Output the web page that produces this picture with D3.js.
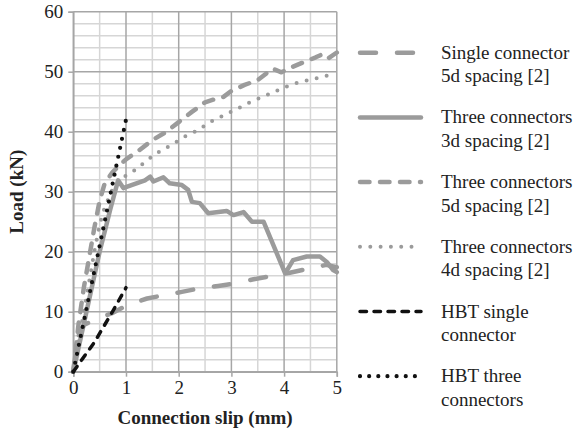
<!DOCTYPE html>
<html><head><meta charset="utf-8">
<script src="https://cdn.jsdelivr.net/npm/d3@7"></script>
<style>
html,body{margin:0;padding:0;background:#fff;}
svg{display:block;font-family:"Liberation Serif","Times New Roman",serif;}
</style></head>
<body><svg id="c" width="579" height="431"></svg>
<script>
// ---- data (slip mm, load kN) ----
const single5d = [[0,0],[0.05,3.5],[0.1,6],[0.2,7.8],[0.45,8.8],[0.75,9.8],[1,11],[1.4,12.2],[1.75,12.8],[2.06,13.3],[2.4,13.9],[2.75,14.3],[3.07,14.7],[3.42,15.4],[3.76,15.95],[4.11,16.5],[4.43,17.1],[4.8,17.8],[5,17.4]];
const three3d = [[0,0],[0.1,4],[0.3,12],[0.5,20],[0.7,27],[0.85,31.9],[0.95,30.6],[1.01,30.8],[1.36,31.9],[1.46,32.5],[1.52,31.7],[1.71,32.4],[1.83,31.4],[2.06,31.1],[2.18,30.3],[2.25,28.3],[2.4,28.1],[2.56,26.4],[2.91,26.8],[3.04,26.1],[3.23,26.6],[3.39,25.0],[3.61,25.0],[4.02,16.4],[4.17,18.6],[4.43,19.2],[4.68,19.2],[4.81,18.3],[4.93,16.95],[5,16.6]];
const three5d = [[0,0],[0.1,8],[0.2,14],[0.3,19],[0.4,24],[0.5,28.5],[0.6,31.5],[0.75,33.3],[1,35.4],[1.25,36.9],[1.5,38.6],[1.75,39.9],[2,41.6],[2.25,43.3],[2.5,44.9],[2.75,45.6],[2.85,45.8],[3,46.8],[3.25,47.8],[3.5,48.6],[3.78,50.5],[3.95,49.9],[4.1,50.6],[4.35,51.5],[4.6,52.4],[4.75,53],[4.85,52.3],[5,53.2]];
const three4d = [[0,0],[0.1,5],[0.2,10],[0.3,15],[0.4,20],[0.5,24.5],[0.6,27.5],[0.75,30.5],[0.9,32.2],[1.11,33.2],[1.27,34.3],[1.41,35.3],[1.58,36.4],[1.74,37.2],[1.92,38.1],[2.09,39.1],[2.27,39.8],[2.44,40.7],[2.61,41.7],[2.78,42.4],[2.96,43.2],[3.13,43.9],[3.3,44.7],[3.48,45.4],[3.67,46.1],[3.85,46.8],[4.04,47.5],[4.23,48.1],[4.42,48.5],[4.61,48.9],[4.78,49.3],[5,49.5]];
const hbtSingle = [[0,0],[0.4,4.9],[0.75,10.1],[1,14]];
const hbtThree = [[0,0],[0.5,21],[1,42]];

const xTicks = [0,1,2,3,4,5];
const yTicks = [0,10,20,30,40,50,60];
const legendLabels = [
  ["Single connector","5d spacing [2]"],
  ["Three connectors","3d spacing [2]"],
  ["Three connectors","5d spacing [2]"],
  ["Three connectors","4d spacing [2]"],
  ["HBT single","connector"],
  ["HBT three","connectors"]
];
const seriesData = [single5d, three3d, three5d, three4d, hbtSingle, hbtThree];
const styles = [
  {c:"#9b9b9b", w:4.5, d:"16,21"},
  {c:"#9b9b9b", w:4.5, d:null},
  {c:"#9b9b9b", w:4.5, d:"9.5,10.5"},
  {c:"#9b9b9b", w:4, d:"0,10.3"},
  {c:"#111", w:3.5, d:"6.5,7.5"},
  {c:"#111", w:4.2, d:"0,9.15"}
];

const svg = d3.select("#c");
const L=73.3, R=336.8, T=11.7, B=371.7;
const x = d3.scaleLinear().domain([0,5]).range([L,R]);
const y = d3.scaleLinear().domain([0,60]).range([B,T]);

const g = svg.append("g");
// minor grid
const minorX = d3.range(0.5,5,1);
const minorY = d3.range(0,61,2).filter(v=>v%10!==0);
g.selectAll(".mx").data(minorX).join("line").attr("x1",d=>x(d)).attr("x2",d=>x(d)).attr("y1",T).attr("y2",B).attr("stroke","#d6d6d6").attr("stroke-width",1.5);
g.selectAll(".my").data(minorY).join("line").attr("y1",d=>y(d)).attr("y2",d=>y(d)).attr("x1",L).attr("x2",R).attr("stroke","#d6d6d6").attr("stroke-width",1.5);
// major grid
g.selectAll(".Mx").data(xTicks).join("line").attr("x1",d=>x(d)).attr("x2",d=>x(d)).attr("y1",T).attr("y2",B).attr("stroke","#a6a6a6").attr("stroke-width",1.5);
g.selectAll(".My").data(yTicks).join("line").attr("y1",d=>y(d)).attr("y2",d=>y(d)).attr("x1",L).attr("x2",R).attr("stroke","#a6a6a6").attr("stroke-width",1.5);

// axes
const xa = svg.append("g").attr("transform",`translate(0,${B})`).call(d3.axisBottom(x).tickValues(xTicks).tickSize(5).tickPadding(4).tickFormat(d3.format("d")));
const ya = svg.append("g").attr("transform",`translate(${L},0)`).call(d3.axisLeft(y).tickValues(yTicks).tickSize(5).tickPadding(5).tickFormat(d3.format("d")));
[xa,ya].forEach(a=>{
  a.select(".domain").attr("stroke","#a6a6a6").attr("stroke-width",1.5);
  a.selectAll(".tick line").attr("stroke","#a6a6a6").attr("stroke-width",1.5);
  a.selectAll("text").attr("fill","#222").style("font-size","19px").style("font-family","'Liberation Serif',serif");
});
ya.selectAll(".tick text").attr("dy","0.33em");

// series
const line = d3.line().x(d=>x(d[0])).y(d=>y(d[1]));
seriesData.forEach((s,i)=>{
  const st = styles[i];
  svg.append("path").datum(s).attr("d",line).attr("fill","none")
    .attr("stroke",st.c).attr("stroke-width",st.w).attr("stroke-linecap","round").attr("stroke-linejoin","round")
    .attr("stroke-dasharray",st.d);
});

// legend
legendLabels.forEach((lab,i)=>{
  const ly = 52.7 + 64.7*i;
  const st = styles[i];
  svg.append("line").attr("x1",360).attr("x2",421).attr("y1",ly).attr("y2",ly)
    .attr("stroke",st.c).attr("stroke-width",st.w).attr("stroke-linecap","round").attr("stroke-dasharray",st.d);
  const t = svg.append("text").attr("x",441).attr("y",ly+6).attr("fill","#222").style("font-size","19px");
  t.append("tspan").attr("x",441).text(lab[0]);
  t.append("tspan").attr("x",441).attr("dy",23.5).text(lab[1]);
});

// axis titles
svg.append("text").attr("x",(L+R)/2).attr("y",424).attr("text-anchor","middle").attr("fill","#222")
  .style("font-size","19px").style("font-weight","bold").text("Connection slip (mm)");
svg.append("text").attr("transform",`translate(23,${(T+B)/2}) rotate(-90)`).attr("text-anchor","middle").attr("fill","#222")
  .style("font-size","19px").style("font-weight","bold").text("Load (kN)");
</script></body></html>
